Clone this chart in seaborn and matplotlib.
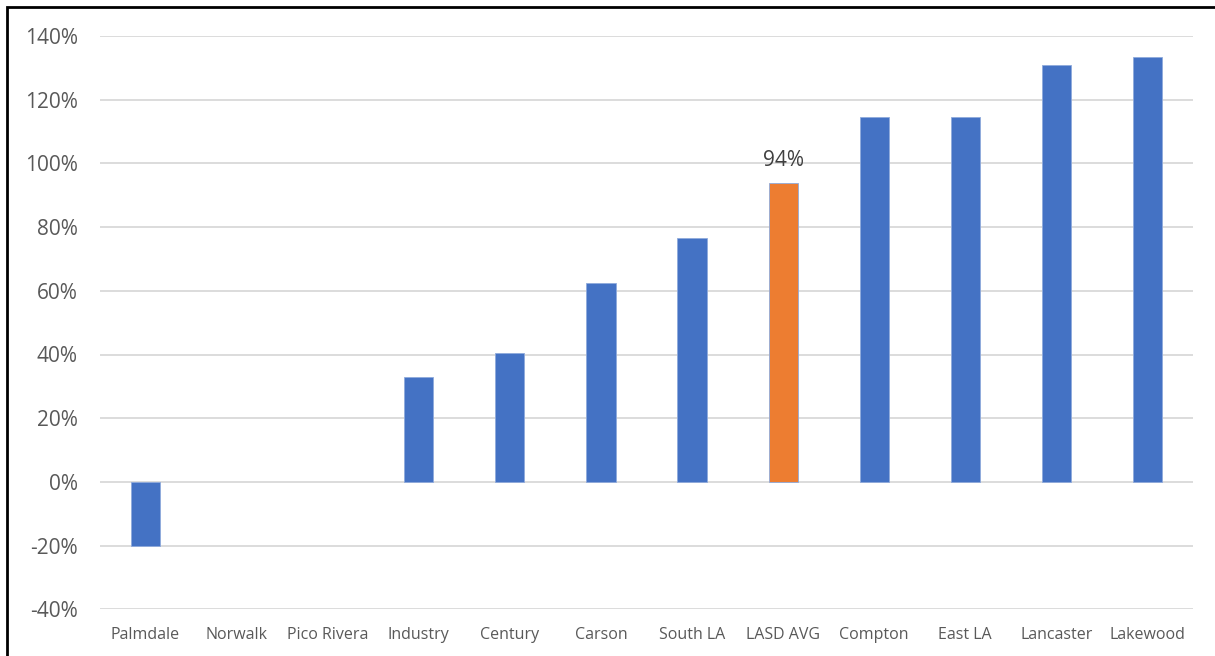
import matplotlib
matplotlib.use("Agg")
import matplotlib.pyplot as plt
import matplotlib.ticker as mticker
from matplotlib.patches import Rectangle
import seaborn as sns
import pandas as pd

stations = ["Palmdale", "Norwalk", "Pico Rivera", "Industry", "Century", "Carson",
            "South LA", "LASD AVG", "Compton", "East LA", "Lancaster", "Lakewood"]
change_pct = [-20, 0, 0, 33, 40.5, 62.5, 76.5, 94, 114.5, 114.5, 131, 133.3]
highlight = "LASD AVG"
yticks = [-40, -20, 0, 20, 40, 60, 80, 100, 120, 140]

df = pd.DataFrame({"station": stations, "change": change_pct})
blue, orange = "#4472C4", "#ED7D31"
palette = {s: (orange if s == highlight else blue) for s in stations}

sns.set_theme(style="white")
plt.rcParams["font.family"] = ["Open Sans", "DejaVu Sans"]

fig = plt.figure(figsize=(12.15, 6.56), dpi=100)
ax = fig.add_axes([100 / 1215, 46.7 / 656, 1093 / 1215, 573.3 / 656])

sns.barplot(data=df, x="station", y="change", hue="station", palette=palette,
            order=stations, width=0.32, legend=False, ax=ax,
            edgecolor="#8FAADC", linewidth=0.6, saturation=1)

# zero-height bars leave no visible outline
for p in ax.patches:
    if abs(p.get_height()) < 1e-9:
        p.set_linewidth(0)

ax.set_ylim(-40, 140)
ax.set_xlim(-0.5, len(stations) - 0.5)
ax.set_yticks(yticks)
ax.yaxis.set_major_formatter(mticker.FuncFormatter(lambda v, p: f"{v:.0f}%"))
ax.grid(axis="y", color="#D9D9D9", linewidth=1.3, zorder=0)
ax.set_axisbelow(True)
for sp in ax.spines.values():
    sp.set_visible(False)
ax.set_xlabel("")
ax.set_ylabel("")
ax.tick_params(axis="y", labelsize=15, colors="#595959", length=0, pad=16)
ax.tick_params(axis="x", labelsize=11.5, colors="#595959", length=0, pad=13)

# value label on the highlighted average bar
idx = stations.index(highlight)
val = change_pct[idx]
ax.annotate(f"{val:.0f}%", xy=(idx, val), xytext=(0, 8.5), textcoords="offset points",
            ha="center", va="bottom", fontsize=15, color="#404040")

# outer frame around the chart
fig.patches.append(Rectangle((7 / 1215, -0.05), 1.2, (656 - 7) / 656 + 0.05,
                             transform=fig.transFigure, fill=False,
                             edgecolor="black", linewidth=2))

fig.savefig("out.png", dpi=100)
